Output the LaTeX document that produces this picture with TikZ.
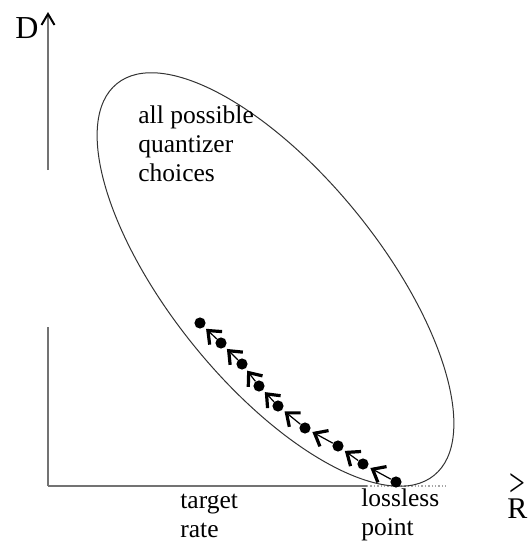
\documentclass[tikz,border=0pt]{standalone}
\usepackage{fontspec}
\setmainfont{Liberation Serif}
\usetikzlibrary{arrows.meta,positioning}

\begin{document}
\begin{tikzpicture}[x=0.5pt,y=0.5pt,
  axis/.style={draw=black!55,line width=.7pt},
  rim/.style={draw=black!80,line width=.5pt},
  dot/.style={circle,fill=black,inner sep=0pt,minimum size=5.6pt},
  move/.style={draw=black,line width=.6pt,shorten >=1.2pt,
    -{Straight Barb[length=5.5pt,width=9pt,line width=1.6pt]}},
  label/.style={font=\fontsize{12.75}{14.5}\selectfont,align=left,inner sep=0pt},
  axlabel/.style={font=\fontsize{16}{18}\selectfont,inner sep=0pt}]
\useasboundingbox (0,0) rectangle (528,543);

% Axes: D upwards (broken), rate to the right.
\coordinate (origin) at (48,57);
\coordinate (ylow) at (48,216);
\coordinate (yhigh) at (48,373);
\coordinate (ytop) at (48,531);
\coordinate (xsolid) at (367,57);
\coordinate (xend) at (446,57);
\draw[axis] (origin) -- (ylow);
\draw[axis,-{Straight Barb[length=5.5pt,width=6.5pt,line width=1pt,color=black]}]
  (yhigh) -- (ytop);
\draw[axis] (origin) -- (xsolid);
\draw[axis,densely dotted,draw=black!35] (xsolid) -- (xend);
\node[axlabel,anchor=base west] (dlabel) at (15,505) {D};
\node[axlabel,font=\fontsize{15}{17}\selectfont,anchor=base west]
  (rvec) at (507,25) {R};
\node[inner sep=0pt,font=\fontsize{20}{20}\selectfont,above=0.5pt of rvec]
  (rmark) {\scalebox{.7}[1]{>}};

% Set of all quantizer choices.
\draw[rim,rotate around={-51:(275.5,263.5)}]
  (275.5,263.5) ellipse [x radius=252,y radius=105];
\node[label,anchor=base west] (cloud) at (138,362)
  {all possible\\quantizer\\choices};

% Path from the lossless point down to the target rate.
\foreach \n/\x/\y in {1/200/220,2/221/200,3/242/179,4/259/157,5/278/137,
  6/305/115,7/338/97,8/363/79,9/396/61}
  \node[dot] (p\n) at (\x,\y) {};
\foreach \n [count=\m] in {2,...,9}
  \draw[move] (p\n) -- (p\m);

\node[label,anchor=base west] (target) at (180,5) {target\\rate};
\node[label,anchor=base west] (lossless) at (361,8) {lossless\\point};
\end{tikzpicture}
\end{document}
